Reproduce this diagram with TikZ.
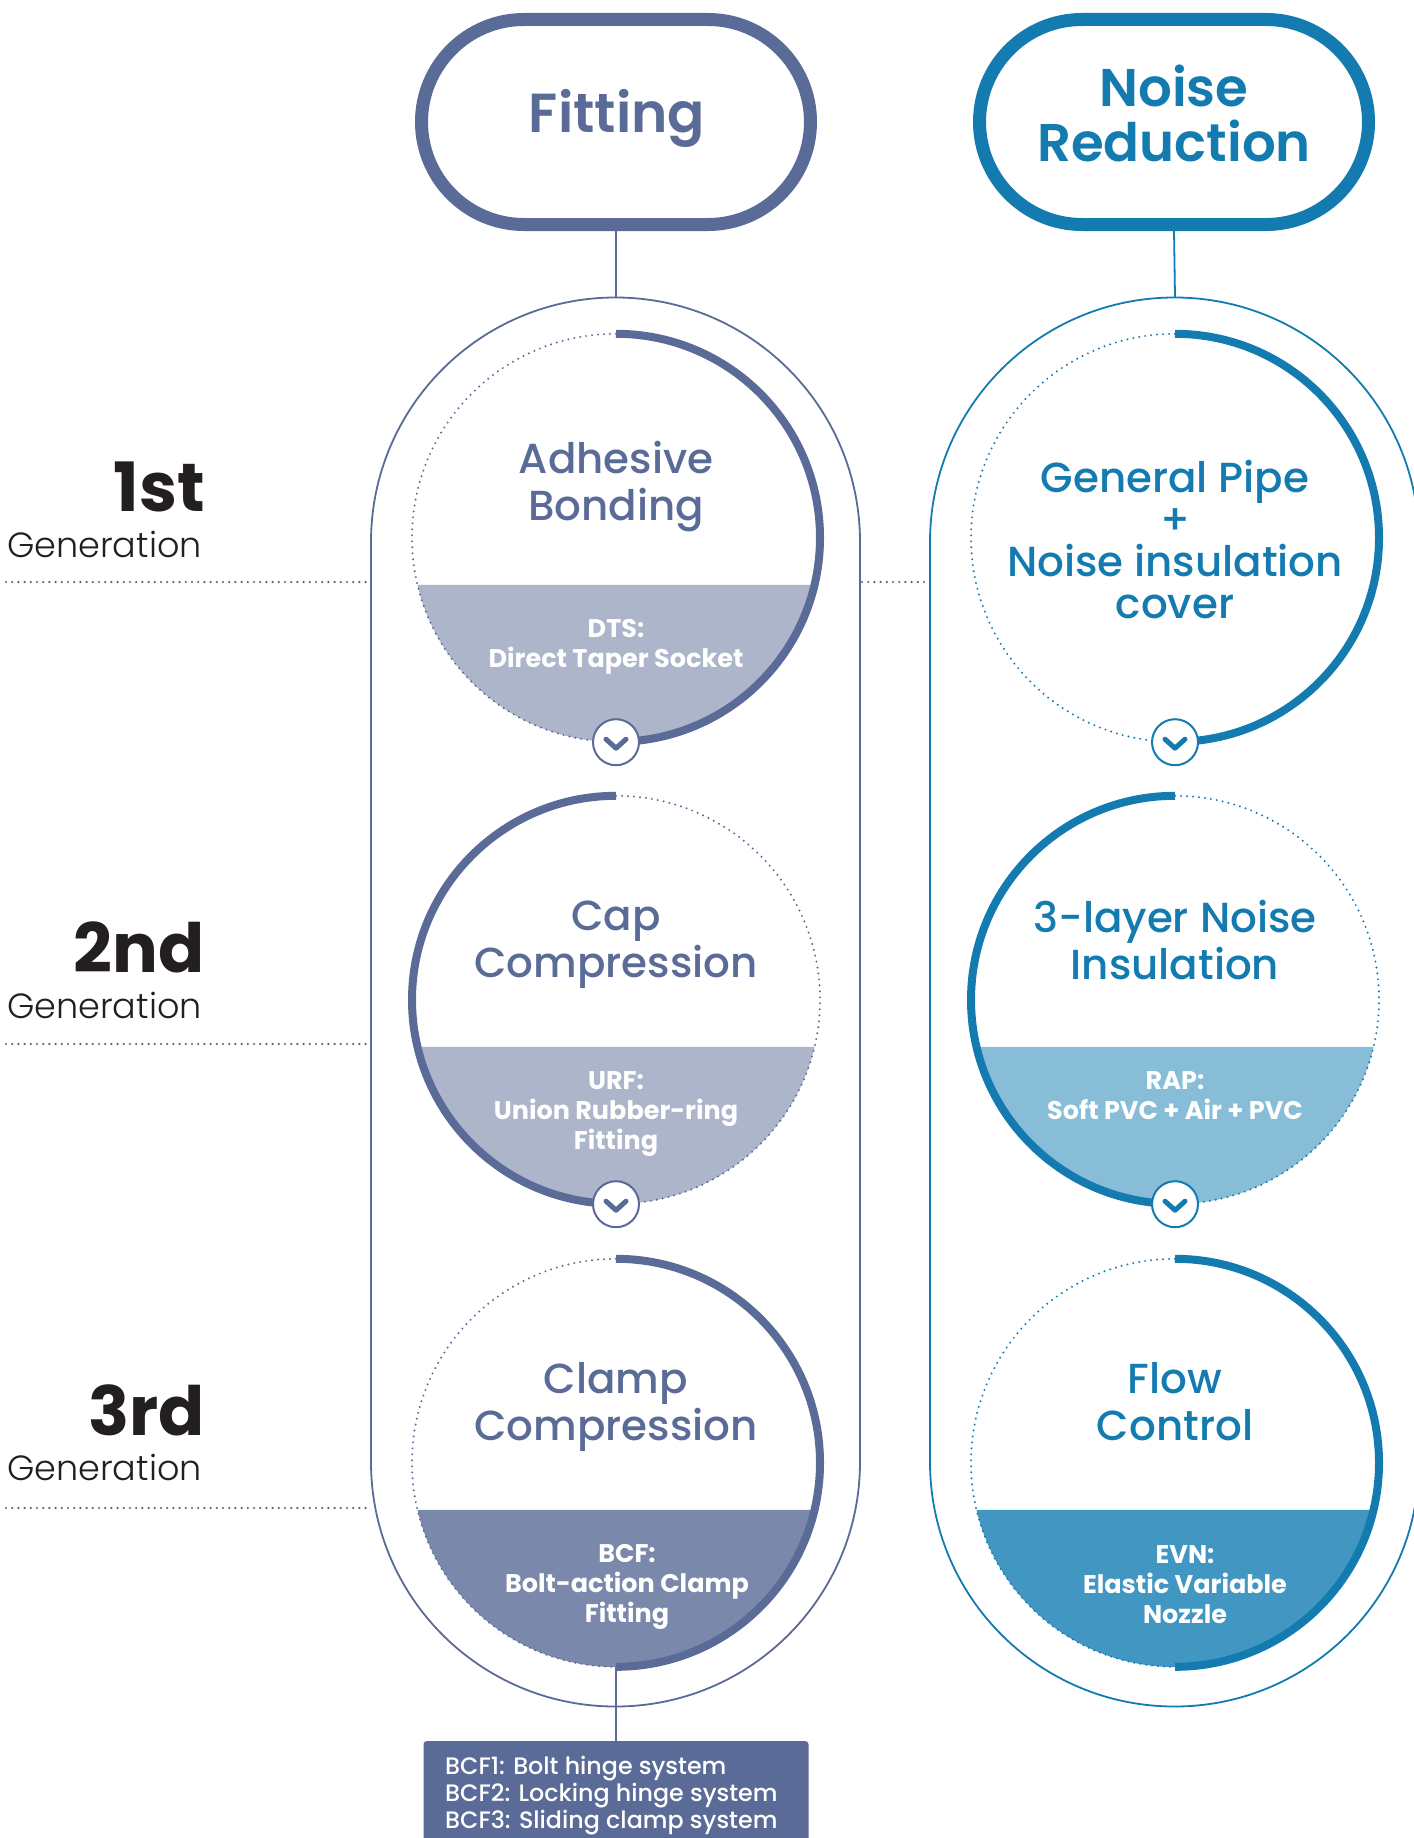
\documentclass[tikz,border=0pt]{standalone}
\usepackage{fontspec}
\setmainfont{Poppins}
\newfontfamily\fmed{Poppins Medium}
\newfontfamily\fsemi{Poppins SemiBold}
\newfontfamily\flight{Poppins Light}
\usetikzlibrary{shapes.misc,calc}
\definecolor{slate}{HTML}{5B6B97}
\definecolor{blue}{HTML}{137BB0}
\definecolor{bandLa}{HTML}{ACB5CA}
\definecolor{bandLb}{HTML}{7A89AB}
\definecolor{bandRa}{HTML}{88BDD8}
\definecolor{bandRb}{HTML}{4197C2}
\definecolor{dotgray}{HTML}{5F6064}
\definecolor{genblack}{HTML}{231F20}
\begin{document}
\begin{tikzpicture}[x=1pt,y=1pt,
  thinline/.style={line width=1.8},
  thickarc/.style={line width=8},
  dotarc/.style={line width=2.2, dash pattern=on 0pt off 6pt, line cap=round},
  gendot/.style={line width=2.4, dotgray, dash pattern=on 0pt off 6.2pt, line cap=round},
  titlecap/.style={rounded rectangle, line width=13, minimum width=389, minimum height=205, fill=white, inner sep=0},
  ring/.style={circle, minimum size=408, inner sep=0},
  chev/.style={circle, fill=white, line width=2, minimum size=46, inner sep=0},
  chevline/.style={line width=5, line cap=round, line join=round},
  ttext/.style={font=\fsemi\fontsize{53}{55}\selectfont, align=center, anchor=base, inner sep=0},
  ctitle/.style={font=\fmed\fontsize{42}{46.5}\selectfont, align=center, anchor=base, inner sep=0},
  bandtext/.style={font=\bfseries\fontsize{25.5}{30}\selectfont, text=white, align=center, anchor=base, inner sep=0},
  gennum/.style={font=\bfseries\fontsize{68}{68}\selectfont, text=genblack, anchor=base east, inner sep=0},
  genword/.style={font=\flight\fontsize{35}{35}\selectfont, text=genblack, anchor=base west, inner sep=0}
]
\useasboundingbox (0,0) rectangle (1413,-1838);
\fill[white] (0,0) rectangle (1413,-1838);

% ---------- generation labels ----------
\node[gennum] (g1n) at (205,-511) {1st};
\node[genword] (g1w) at (7,-557) {Generation};
\node[gennum] (g2n) at (205,-972) {2nd};
\node[genword] (g2w) at (7,-1018) {Generation};
\node[gennum] (g3n) at (205,-1435) {3rd};
\node[genword] (g3w) at (7,-1480) {Generation};

\coordinate (d1a) at (6,-582);   \coordinate (d1b) at (370,-582);
\coordinate (d1c) at (862,-582); \coordinate (d1d) at (929,-582);
\coordinate (d2a) at (6,-1044);  \coordinate (d2b) at (370,-1044);
\coordinate (d3a) at (6,-1508);  \coordinate (d3b) at (370,-1508);
\draw[gendot] (d1a) -- (d1b);
\draw[gendot] (d1c) -- (d1d);
\draw[gendot] (d2a) -- (d2b);
\draw[gendot] (d3a) -- (d3b);

% ---------- big capsules ----------
\draw[thinline, slate] (371,-542) -- (371,-1462) arc[start angle=180, end angle=360, radius=244.5]
  -- (860,-542) arc[start angle=0, end angle=180, radius=244.5];
\draw[thinline, blue] (930,-542) -- (930,-1462) arc[start angle=180, end angle=360, radius=244.5]
  -- (1419,-542) arc[start angle=0, end angle=180, radius=244.5];
\coordinate (capLtop) at (616,-297);
\coordinate (capRtop) at (1175,-297);

% ---------- title capsules ----------
\node[titlecap, draw=slate] (fit) at (616,-122) {};
\node[titlecap, draw=blue] (noise) at (1174,-122) {};
\node[ttext, text=slate, font=\fsemi\fontsize{55}{55}\selectfont] (fitT) at (617,-133) {Fitting};
\node[ttext, text=blue] (noiseT) at (1174,-162) {Noise\\Reduction};
\draw[thinline, slate] (fit.south) -- (capLtop);
\draw[thinline, blue] (noise.south) -- (capRtop);

% ---------- ring nodes ----------
\node[ring] (c1L) at (616,-538) {};
\node[ring] (c2L) at (616,-1000) {};
\node[ring] (c3L) at (616,-1463) {};
\node[ring] (c1R) at (1175,-538) {};
\node[ring] (c2R) at (1175,-1000) {};
\node[ring] (c3R) at (1175,-1463) {};

% ---------- bands ----------
\fill[bandLa] ([shift={(-13.3:204)}]c1L.center) arc[start angle=-13.3, end angle=-166.7, radius=204] -- cycle;
\fill[bandLa] ([shift={(-13.3:204)}]c2L.center) arc[start angle=-13.3, end angle=-166.7, radius=204] -- cycle;
\fill[bandLb] ([shift={(-13.3:204)}]c3L.center) arc[start angle=-13.3, end angle=-166.7, radius=204] -- cycle;
\fill[bandRa] ([shift={(-13.3:204)}]c2R.center) arc[start angle=-13.3, end angle=-166.7, radius=204] -- cycle;
\fill[bandRb] ([shift={(-13.3:204)}]c3R.center) arc[start angle=-13.3, end angle=-166.7, radius=204] -- cycle;

% ---------- arcs ----------
% left column
\draw[thickarc, slate] (c1L.north) arc[start angle=90, end angle=-90, radius=204];
\draw[dotarc, slate] (c1L.north) arc[start angle=90, end angle=270, radius=204];
\draw[thickarc, slate] (c2L.north) arc[start angle=90, end angle=270, radius=204];
\draw[dotarc, slate] (c2L.north) arc[start angle=90, end angle=-90, radius=204];
\draw[thickarc, slate] (c3L.north) arc[start angle=90, end angle=-90, radius=204];
\draw[dotarc, slate] (c3L.north) arc[start angle=90, end angle=270, radius=204];
% right column
\draw[thickarc, blue] (c1R.north) arc[start angle=90, end angle=-90, radius=204];
\draw[dotarc, blue] (c1R.north) arc[start angle=90, end angle=270, radius=204];
\draw[thickarc, blue] (c2R.north) arc[start angle=90, end angle=270, radius=204];
\draw[dotarc, blue] (c2R.north) arc[start angle=90, end angle=-90, radius=204];
\draw[thickarc, blue] (c3R.north) arc[start angle=90, end angle=-90, radius=204];
\draw[dotarc, blue] (c3R.north) arc[start angle=90, end angle=270, radius=204];

% ---------- chevrons ----------
\node[chev, draw=slate] (v1L) at (c1L.south) {};
\node[chev, draw=slate] (v2L) at (c2L.south) {};
\node[chev, draw=blue] (v1R) at (c1R.south) {};
\node[chev, draw=blue] (v2R) at (c2R.south) {};
\draw[chevline, slate] ([shift={(-10,3)}]v1L.center) -- ([shift={(0,-6)}]v1L.center) -- ([shift={(10,3)}]v1L.center);
\draw[chevline, slate] ([shift={(-10,3)}]v2L.center) -- ([shift={(0,-6)}]v2L.center) -- ([shift={(10,3)}]v2L.center);
\draw[chevline, blue] ([shift={(-10,3)}]v1R.center) -- ([shift={(0,-6)}]v1R.center) -- ([shift={(10,3)}]v1R.center);
\draw[chevline, blue] ([shift={(-10,3)}]v2R.center) -- ([shift={(0,-6)}]v2R.center) -- ([shift={(10,3)}]v2R.center);

% ---------- circle titles (anchor = last baseline) ----------
\node[ctitle, text=slate] (t1L) at (616,-520) {Adhesive\\Bonding};
\node[ctitle, text=slate] (t2L) at (616,-977) {Cap\\Compression};
\node[ctitle, text=slate] (t3L) at (616,-1440) {Clamp\\Compression};
\node[ctitle, text=blue, font=\fmed\fontsize{42}{41.7}\selectfont] (t1R) at (1175,-618) {General Pipe\\+\\Noise insulation\\cover};
\node[ctitle, text=blue] (t2R) at (1175,-979) {3-layer Noise\\Insulation};
\node[ctitle, text=blue] (t3R) at (1175,-1440) {Flow\\Control};

% ---------- band texts ----------
\node[bandtext] (b1L) at (616,-667) {DTS:\\Direct Taper Socket};
\node[bandtext] (b2L) at (616,-1149) {URF:\\Union Rubber-ring\\Fitting};
\node[bandtext] (b3L) at (627,-1622) {BCF:\\Bolt-action Clamp\\Fitting};
\node[bandtext] (b2R) at (1175,-1119) {RAP:\\Soft PVC + Air + PVC};
\node[bandtext] (b3R) at (1185,-1623) {EVN:\\Elastic Variable\\Nozzle};

% ---------- bottom box ----------
\node[fill=slate, rounded corners=3, minimum width=385, minimum height=105, inner sep=0, anchor=north] (box) at (616,-1741) {};
\draw[thinline, slate] (c3L.south) -- (box.north);
\node[font=\fmed\fontsize{23.8}{27}\selectfont, text=white, align=left, anchor=base west, inner sep=0] (boxT) at (445,-1828)
  {BCF1: Bolt hinge system\\BCF2: Locking hinge system\\BCF3: Sliding clamp system};
\end{tikzpicture}
\end{document}
